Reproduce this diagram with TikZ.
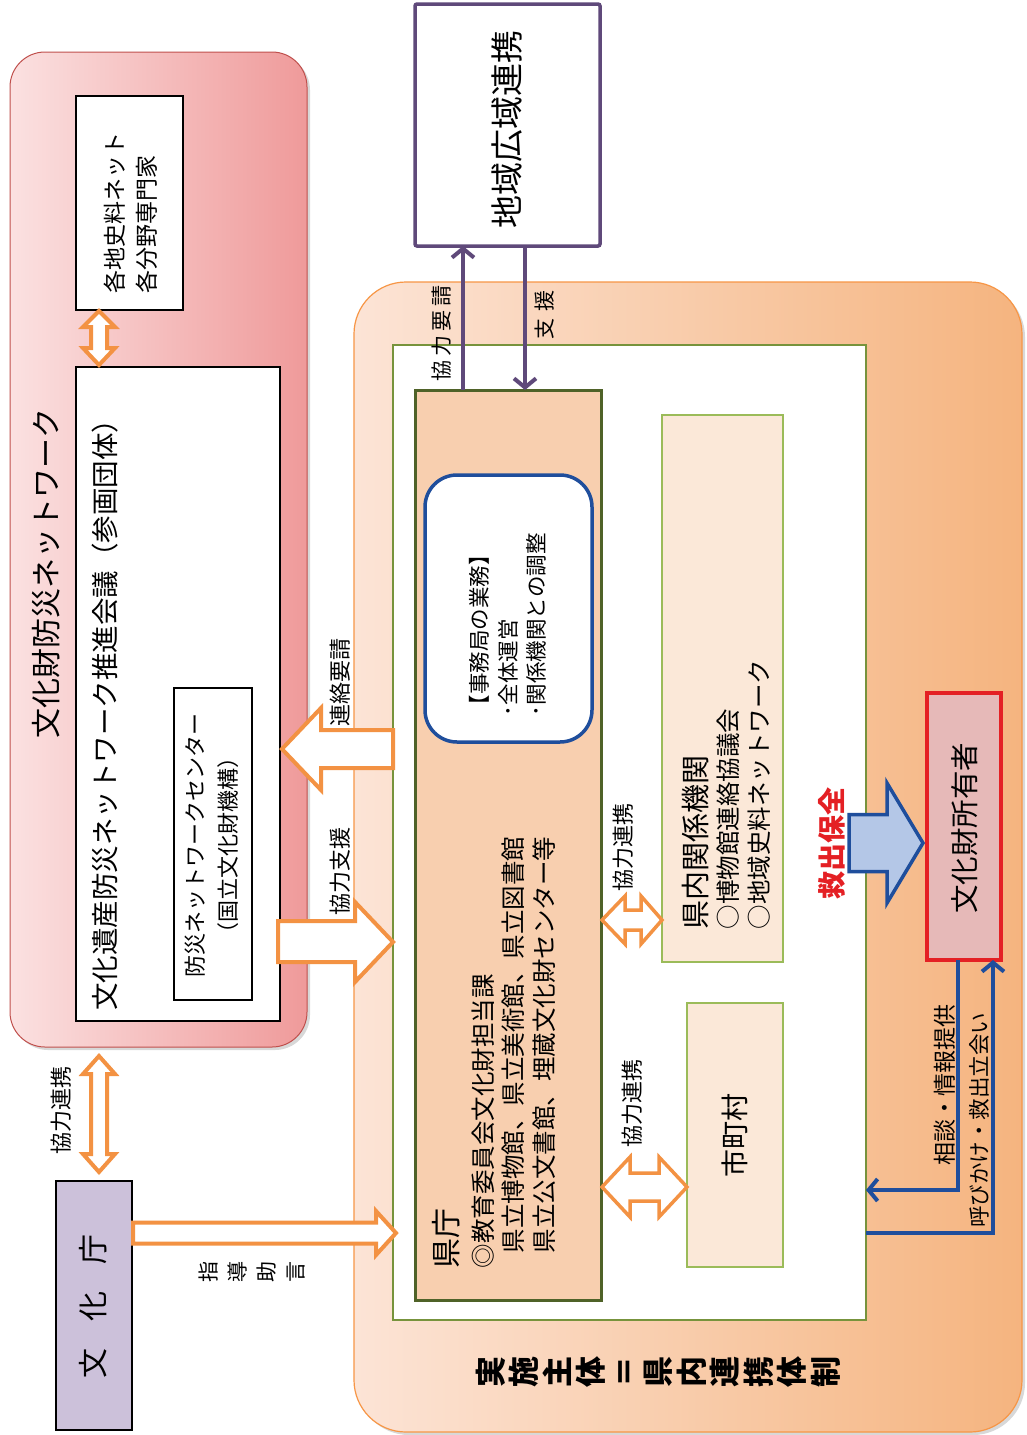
\documentclass[tikz,border=0pt]{standalone}
\usepackage{fontspec}
\setmainfont{Noto Sans CJK JP}
\usetikzlibrary{arrows.meta,shadows,calc}

\definecolor{pinkL}{HTML}{FBE1E1}
\definecolor{pinkR}{HTML}{EF9A9A}
\definecolor{pinkB}{HTML}{C0504D}
\definecolor{orgL}{HTML}{FCE4D6}
\definecolor{orgR}{HTML}{F5B47F}
\definecolor{orgB}{HTML}{F79646}
\definecolor{arrO}{HTML}{F39243}
\definecolor{kenF}{HTML}{F8CFAF}
\definecolor{kenB}{HTML}{4F6228}
\definecolor{grnB}{HTML}{77933C}
\definecolor{subF}{HTML}{FBE8D8}
\definecolor{subB}{HTML}{9BBB59}
\definecolor{purp}{HTML}{5F497A}
\definecolor{bluB}{HTML}{1F4E9C}
\definecolor{bluF}{HTML}{B4C7E7}
\definecolor{redB}{HTML}{E42024}
\definecolor{ownF}{HTML}{E6B9B8}
\definecolor{lav}{HTML}{CCC1DA}

\newcommand\jfs[2]{\fontsize{#1pt}{#2pt}\selectfont}

\tikzset{
  every node/.style={inner sep=0pt, outer sep=0pt},
  box/.style={draw=black, line width=1.2pt, fill=white},
  subbox/.style={draw=subB, line width=1.3pt, fill=subF},
  vtext/.style={rotate=90},
  barrow/.style={draw=arrO, line width=4pt, fill=white, line join=miter},
  purarr/.style={draw=purp, line width=4pt, -{Straight Barb[length=9pt,width=22pt]}},
  bluarr/.style={draw=bluB, line width=4pt, line join=miter, -{Straight Barb[length=9pt,width=22pt]}},
  shade/.style={drop shadow={shadow xshift=3pt, shadow yshift=-3pt, opacity=0.3}},
}

\begin{document}
\begin{tikzpicture}[x=1pt, y=-1pt]
\useasboundingbox (0,0) rectangle (1026,1435);
\fill[white] (0,0) rectangle (1026,1435);

% --- outer groups ---
\node[shade, rounded corners=35pt, draw=pinkB, line width=1pt, left color=pinkL, right color=pinkR,
      minimum width=297pt, minimum height=995pt] (net) at (158.5,549.5) {};
\node[shade, rounded corners=52pt, draw=orgB, line width=1.2pt, left color=orgL, right color=orgR,
      minimum width=668pt, minimum height=1150pt] (impl) at (688,857) {};
\node[draw=grnB, line width=1.3pt, fill=white, minimum width=473pt, minimum height=975pt] (inner) at (629.5,832.5) {};

% --- boxes ---
\node[box, minimum width=107pt, minimum height=214pt] (kakuchi) at (129.5,203) {};
\node[box, minimum width=204pt, minimum height=654pt] (council) at (178,694) {};
\node[box, minimum width=78pt, minimum height=312pt] (center) at (213,844) {};
\node[box, fill=lav, minimum width=76pt, minimum height=249pt] (agency) at (94,1305.5) {};
\node[draw=purp, line width=3.5pt, fill=white, rounded corners=2pt, minimum width=185pt, minimum height=242pt] (chiiki) at (507.5,125) {};
\node[draw=kenB, line width=3pt, fill=kenF, minimum width=186pt, minimum height=910pt] (kencho) at (508,845) {};
\node[draw=bluB, line width=3.5pt, fill=white, rounded corners=32pt, minimum width=167pt, minimum height=267pt] (office) at (508.5,608.5) {};
\node[subbox, minimum width=121pt, minimum height=547pt] (related) at (722.5,688.5) {};
\node[subbox, minimum width=96pt, minimum height=264pt] (towns) at (735,1135) {};
\node[draw=redB, line width=4pt, fill=ownF, minimum width=74pt, minimum height=267pt] (owner) at (964,826.5) {};

% --- box texts ---
\node[vtext, font=\jfs{30}{36}] (tnet) at (46,573) {文化財防災ネットワーク};
\node[vtext, anchor=west, align=left, font=\jfs{23}{32}] (tkak) at (131,293) {各地史料ネット\\各分野専門家};
\node[vtext, font=\jfs{27.5}{32}] (tcouncil) at (105,708) {文化遺産防災ネットワーク推進会議（参画団体）};
\node[vtext, align=center, font=\jfs{22}{33}] (tcenter) at (212,845) {防災ネットワークセンター\\（国立文化財機構）};
\node[vtext, font=\jfs{30}{36}] (tagency) at (93,1306) {文\hspace{27pt}化\hspace{27pt}庁};
\node[vtext, font=\jfs{33}{36}] (tchiiki) at (507,129) {地域広域連携};
\node[vtext, anchor=west, align=left, font=\jfs{21.5}{28.5}] (toffice) at (508,716) {【事務局の業務】\\･全体運営\\･関係機関との調整};
\node[vtext, anchor=north west, align=left, font=\jfs{24.5}{30.5}] (tkencho) at (432,1268)
  {{\jfs{30}{36}県庁}\\[4.5pt]◎教育委員会文化財担当課\\\hspace*{15pt}県立博物館、県立美術館、県立図書館\\\hspace*{15pt}県立公文書館、埋蔵文化財センター等};
\node[vtext, anchor=north west, align=left, font=\jfs{24.5}{31}] (trelated) at (682,929)
  {{\jfs{29}{34}県内関係機関}\\○博物館連絡協議会\\○地域史料ネットワーク};
\node[vtext, font=\jfs{28}{34}] (ttowns) at (735,1135) {市町村};
\node[vtext, font=\jfs{28.5}{34}] (towner) at (965,828) {文化財所有者};
\node[vtext, align=center, font=\bfseries\jfs{31}{33.5}] (ljisshi) at (658,1372)
  {実\\施\\主\\体\\＝\\県\\内\\連\\携\\体\\制};

% --- block arrows ---
% 各地史料ネット <-> 推進会議
\draw[barrow] (99,311) -- (115,327) -- (107,327) -- (107,348) -- (115,348) -- (99,365)
  -- (83,348) -- (91,348) -- (91,327) -- (83,327) -- cycle;
% 推進会議 <-> 文化庁
\draw[barrow] (99,1056) -- (115,1074) -- (107,1074) -- (107,1154) -- (115,1154) -- (99,1172)
  -- (83,1154) -- (91,1154) -- (91,1074) -- (83,1074) -- cycle;
% 文化庁 -> 県庁
\draw[barrow] (133,1222.5) -- (376,1222.5) -- (376,1211) -- (396,1233) -- (376,1255)
  -- (376,1243.5) -- (133,1243.5) -- cycle;
% 連絡要請
\draw[barrow] (393,730) -- (321,730) -- (321,708) -- (282,749) -- (321,790) -- (321,768)
  -- (393,768) -- cycle;
% 協力支援
\draw[barrow] (278,921) -- (355,921) -- (355,902) -- (393,942) -- (355,982) -- (355,962)
  -- (278,962) -- cycle;
% 県庁 <-> 県内関係機関
\draw[barrow, line width=3.5pt] (602,920) -- (625,896) -- (625,910) -- (641,910) -- (641,896)
  -- (662,920) -- (641,944) -- (641,930) -- (625,930) -- (625,944) -- cycle;
% 県庁 <-> 市町村
\draw[barrow, line width=3.5pt] (602,1187) -- (630,1157) -- (630,1173) -- (659,1173) -- (659,1157)
  -- (687,1187) -- (659,1217) -- (659,1201) -- (630,1201) -- (630,1217) -- cycle;
% 救出保全
\draw[draw=bluB, fill=bluF, line width=3.5pt, line join=miter]
  (849,814.5) -- (887,814.5) -- (887,783) -- (923,843) -- (887,903) -- (887,871.5)
  -- (849,871.5) -- cycle;

% --- line arrows ---
\draw[purarr] ([xshift=-45pt]kencho.north) -- ([xshift=-44.5pt]chiiki.south);
\draw[purarr] ([xshift=17.5pt]chiiki.south) -- ([xshift=17pt]kencho.north);
\coordinate (bendA) at (958,1190);
\coordinate (bendB) at (993,1233);
\draw[bluarr] ([xshift=-6pt]owner.south) -- (bendA) -- (inner.east |- bendA);
\draw[bluarr] (inner.east |- bendB) -- (bendB) -- ([xshift=29pt]owner.south);

% --- connector labels ---
\node[vtext, font=\jfs{22}{26}] (lrenraku) at (340,682) {連絡要請};
\node[vtext, font=\jfs{22}{26}] (lshien) at (340,871) {協力支援};
\node[vtext, font=\jfs{22}{26}] (lkyo1) at (61,1110) {協力連携};
\node[vtext, font=\jfs{21}{24}] (lyosei) at (442,333) {協\hspace{4pt}力\hspace{4pt}要\hspace{4pt}請};
\node[vtext, font=\jfs{21}{24}] (lsupport) at (545,315) {支\hspace{7pt}援};
\node[vtext, font=\jfs{22}{26}] (lkyo2) at (623,847) {協力連携};
\node[vtext, font=\jfs{22}{26}] (lkyo3) at (632,1103) {協力連携};
\node[vtext, align=center, font=\jfs{21}{29}] (lshido) at (252,1272) {指\\導\\助\\言};
\node[vtext, font=\bfseries\jfs{28}{34}, text=redB] (lrescue) at (832,843) {救出保全};
\node[vtext, font=\jfs{23}{26}] (lsoudan) at (945,1085) {相談・情報提供};
\node[vtext, font=\jfs{21.5}{26}] (lyobi) at (979,1120) {呼びかけ・救出立会い};
\end{tikzpicture}
\end{document}
